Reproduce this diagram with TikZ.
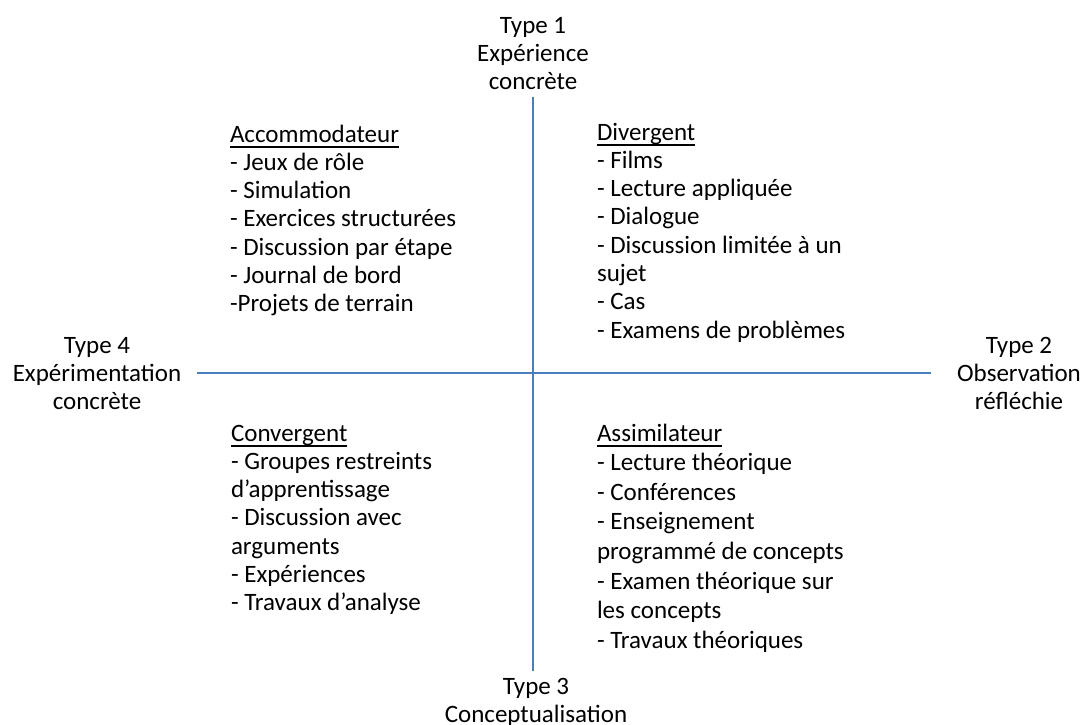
\documentclass[tikz,border=0pt]{standalone}
\usepackage{fontspec}
\setmainfont{Carlito}
\newcommand\myul[1]{\setbox0\hbox{#1}\rlap{\rule[-5.5pt]{\wd0}{1.6pt}}\box0}
\newcommand\lcol[1]{\begin{tabular}[t]{@{}l@{}}#1\end{tabular}}
\newcommand\ccol[1]{\begin{tabular}[t]{@{}c@{}}#1\end{tabular}}
\tikzset{
  txt/.style={inner sep=0pt, outer sep=0pt, font=\fontsize{25}{28.3}\selectfont},
  blk/.style={txt, anchor=base west},
  lbl/.style={txt, anchor=base},
  axis/.style={draw={rgb,255:red,74;green,126;blue,187}, line width=1.5pt}
}
\begin{document}
\begin{tikzpicture}[x=1pt,y=-1pt]
\useasboundingbox (0,0) rectangle (1083,724);
\coordinate (vt) at (533,97);
\coordinate (vb) at (533,671);
\coordinate (hl) at (197,373);
\coordinate (hr) at (931,373);
\draw[axis] (vt) -- (vb);
\draw[axis] (hl) -- (hr);

\node[lbl] (t1) at (533,33) {\ccol{Type 1\\Expérience\\concrète}};
\node[lbl] (t4) at (97,353) {\ccol{Type 4\\Expérimentation\\concrète}};
\node[lbl] (t2) at (1019,353) {\ccol{Type 2\\Observation\\réfléchie}};
\node[lbl] (t3) at (536,694) {\ccol{Type 3\\Conceptualisation}};

\node[blk] (acc) at (230,142) {\lcol{\myul{Accommodateur}\\- Jeux de rôle\\- Simulation\\- Exercices structurées\\- Discussion par étape\\- Journal de bord\\-Projets de terrain}};
\node[blk] (div) at (597,140) {\lcol{\myul{Divergent}\\- Films\\- Lecture appliquée\\- Dialogue\\- Discussion limitée à un\\sujet\\- Cas\\- Examens de problèmes}};
\node[blk] (con) at (231,441) {\lcol{\myul{Convergent}\\- Groupes restreints\\d’apprentissage\\- Discussion avec\\arguments\\- Expériences\\- Travaux d’analyse}};
\node[blk] (ass) at (597,441) {\renewcommand\arraystretch{1.046}\lcol{\myul{Assimilateur}\\- Lecture théorique\\- Conférences\\- Enseignement\\programmé de concepts\\- Examen théorique sur\\les concepts\\- Travaux théoriques}};
\end{tikzpicture}
\end{document}
